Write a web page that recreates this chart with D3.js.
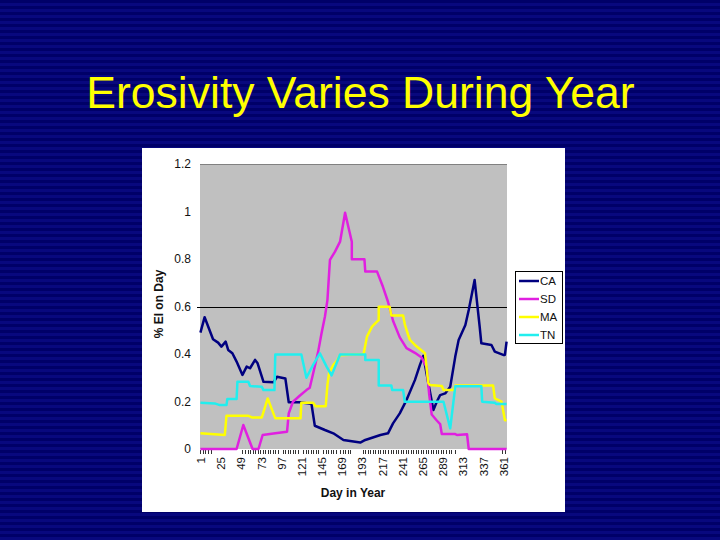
<!DOCTYPE html>
<html><head><meta charset="utf-8">
<script src="https://cdn.jsdelivr.net/npm/d3@7"></script>
<style>html,body{margin:0;padding:0;background:#00006b;}svg{display:block;}</style>
</head><body>
<script>
// ---- data ----
const title = "Erosivity Varies During Year";
const seriesNames = ["CA", "SD", "MA", "TN"];
const seriesColors = ["#000080", "#e020e0", "#ffff00", "#22eeee"];

const caDays = [1,6,16,22,26,31,34,39,44,51,56,60,66,69,76,88,92,102,106,119,133,137,149,159,171,191,197,215,224,230,238,246,256,262,266,272,278,282,286,292,298,304,308,316,320,327,333,335,347,351,361,363,365];
const caVals = [0.49,0.555,0.462,0.448,0.431,0.452,0.417,0.403,0.368,0.312,0.347,0.34,0.375,0.361,0.283,0.281,0.304,0.297,0.197,0.197,0.19,0.098,0.08,0.066,0.038,0.027,0.038,0.059,0.066,0.108,0.15,0.206,0.29,0.354,0.392,0.277,0.164,0.199,0.227,0.234,0.262,0.389,0.459,0.522,0.585,0.712,0.515,0.445,0.438,0.41,0.396,0.396,0.452];

const sdDays = [1,44,52,63,70,75,90,104,106,111,119,127,131,135,141,145,149,152,155,161,167,173,181,181,196,197,211,218,224,230,238,246,256,264,270,273,276,282,286,288,304,306,318,320,365];
const sdVals = [0,0,0.101,0,0,0.059,0.066,0.073,0.15,0.199,0.224,0.248,0.258,0.318,0.41,0.487,0.557,0.627,0.796,0.831,0.873,0.995,0.873,0.799,0.799,0.747,0.747,0.683,0.62,0.54,0.47,0.425,0.405,0.385,0.345,0.23,0.145,0.12,0.105,0.063,0.063,0.059,0.062,0,0];

const maDays = [1,30,32,58,62,74,81,90,120,121,135,138,150,152,154,159,163,167,195,199,205,211,213,213,226,228,242,244,248,250,256,268,272,274,288,290,302,304,349,351,359,363,365];
const maVals = [0.066,0.059,0.14,0.14,0.133,0.133,0.213,0.129,0.129,0.195,0.195,0.18,0.18,0.27,0.32,0.354,0.37,0.395,0.40,0.473,0.515,0.536,0.543,0.599,0.599,0.562,0.562,0.525,0.48,0.46,0.438,0.403,0.277,0.269,0.265,0.248,0.248,0.267,0.267,0.213,0.199,0.122,0.12];

const tnDays = [1,18,24,32,33,44,45,58,60,74,76,89,90,121,127,135,143,151,157,167,197,197,213,213,228,229,242,244,290,298,304,335,336,351,353,365];
const tnVals = [0.195,0.192,0.185,0.185,0.211,0.211,0.283,0.283,0.265,0.262,0.248,0.248,0.398,0.398,0.30,0.354,0.403,0.347,0.31,0.398,0.398,0.375,0.375,0.267,0.267,0.248,0.248,0.199,0.199,0.087,0.264,0.264,0.199,0.195,0.189,0.189];

const xTickDays = [1,25,49,73,97,121,145,169,193,217,241,265,289,313,337,361];
const yTickVals = [0,0.2,0.4,0.6,0.8,1,1.2];
const yTickLabels = ["0","0.2","0.4","0.6","0.8","1","1.2"];
const minorTickRanges = [[1,14],[51,95],[99,119],[123,143],[147,163],[167,179],[194,300],[304,304],[360,365]];
const gridValue = 0.6;
const xTitle = "Day in Year";
const yTitle = "% EI on Day";

// ---- drawing ----
const W = 720, H = 540;
const svg = d3.select("body").append("svg").attr("width", W).attr("height", H);
const defs = svg.append("defs");
const pat = defs.append("pattern").attr("id","stripes").attr("patternUnits","userSpaceOnUse")
  .attr("width", 720).attr("height", 6);
pat.append("rect").attr("width",720).attr("height",6).attr("fill","#000068");
pat.append("rect").attr("y",3).attr("width",720).attr("height",3).attr("fill","#08087e");
svg.append("rect").attr("width",W).attr("height",H).attr("fill","url(#stripes)");

svg.append("text").attr("x",360.5).attr("y",108).attr("text-anchor","middle")
  .attr("font-family","'Liberation Sans', Arial, sans-serif").attr("font-size",44.5)
  .attr("fill","#ffff00").text(title);

// white panel
svg.append("rect").attr("x",142).attr("y",148).attr("width",423).attr("height",364).attr("fill","#ffffff");

const x = d3.scaleLinear().domain([0.5, 365.5]).range([200, 507]);
const y = d3.scaleLinear().domain([0, 1.2]).range([449, 164]);

const font = "'Liberation Sans', Arial, sans-serif";

// plot area
svg.append("rect").attr("x",x(0.5)).attr("y",y(1.2)).attr("width",x(365.5)-x(0.5)).attr("height",y(0)-y(1.2)).attr("fill","#c0c0c0");
svg.append("line").attr("x1",x(0.5)).attr("x2",x(365.5)).attr("y1",y(1.2)+0.5).attr("y2",y(1.2)+0.5).attr("stroke","#808080").attr("stroke-width",1);
svg.append("line").attr("x1",x(0.5)-3).attr("x2",x(365.5)).attr("y1",Math.round(y(gridValue))+0.5).attr("y2",Math.round(y(gridValue))+0.5).attr("stroke","#000").attr("stroke-width",1);

// y axis
const yAxis = svg.append("g").attr("transform",`translate(${x(0.5)},0)`)
  .call(d3.axisLeft(y).tickValues(yTickVals).tickSize(0).tickPadding(9).tickFormat((d,i)=>yTickLabels[i]));
yAxis.select(".domain").remove();
yAxis.selectAll("text").attr("font-family",font).attr("font-size",12).attr("fill","#111");

// x axis
const xAxis = svg.append("g").attr("transform",`translate(0,${y(0)})`)
  .call(d3.axisBottom(x).tickValues(xTickDays).tickSize(0).tickFormat(d=>String(d)));
xAxis.select(".domain").remove();
xAxis.selectAll("text").attr("font-family",font).attr("font-size",11.5).attr("fill","#111")
  .attr("text-anchor","end").attr("dy","0.35em").attr("y",0)
  .attr("transform","translate(0,8) rotate(-90)");

// minor ticks
const minorDays = [];
minorTickRanges.forEach(([a,b])=>{ for(let d=a; d<=b; d+=3) minorDays.push(d); });
svg.append("g").selectAll("line").data(minorDays).join("line")
  .attr("x1",d=>Math.round(x(d))+0.5).attr("x2",d=>Math.round(x(d))+0.5)
  .attr("y1",y(0)+1).attr("y2",y(0)+5).attr("stroke","#333").attr("stroke-width",1);

// titles
svg.append("text").attr("x",353).attr("y",497).attr("text-anchor","middle")
  .attr("font-family",font).attr("font-weight","bold").attr("font-size",12).attr("fill","#111").text(xTitle);
svg.append("text").attr("transform","translate(163,304) rotate(-90)").attr("text-anchor","middle")
  .attr("font-family",font).attr("font-weight","bold").attr("font-size",12).attr("fill","#111").text(yTitle);

// series
const allDays = [caDays, sdDays, maDays, tnDays];
const allVals = [caVals, sdVals, maVals, tnVals];
const line = d3.line().x(d=>x(d[0])).y(d=>y(d[1]));
seriesNames.forEach((name,i)=>{
  const pts = allDays[i].map((d,j)=>[d, allVals[i][j]]);
  svg.append("path").datum(pts).attr("d",line).attr("fill","none")
    .attr("stroke",seriesColors[i]).attr("stroke-width",2.5).attr("stroke-linejoin","round");
});

// legend
const lg = svg.append("g");
lg.append("rect").attr("x",515.5).attr("y",271.5).attr("width",47).attr("height",72).attr("fill","#fff").attr("stroke","#000").attr("stroke-width",1);
seriesNames.forEach((name,i)=>{
  const ly = 281 + i*18;
  lg.append("line").attr("x1",519).attr("x2",539).attr("y1",ly).attr("y2",ly).attr("stroke",seriesColors[i]).attr("stroke-width",2.5);
  lg.append("text").attr("x",540).attr("y",ly).attr("dy","0.35em").attr("font-family",font).attr("font-size",11.5).attr("fill","#111").text(name);
});
</script>
</body></html>
